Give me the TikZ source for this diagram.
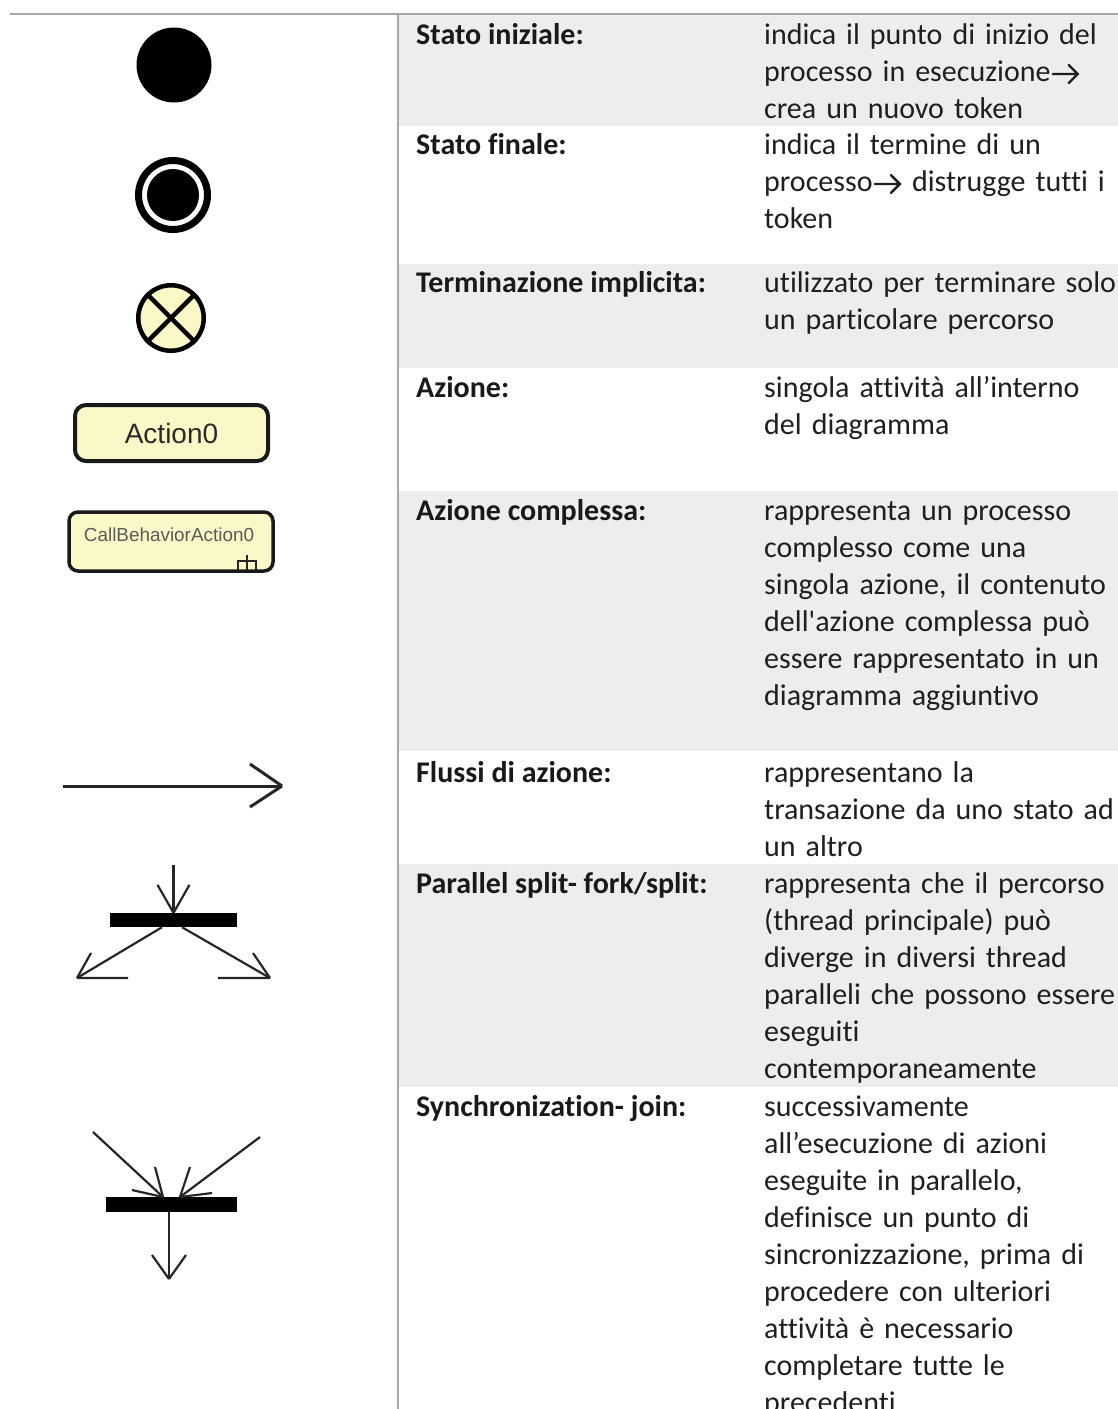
\documentclass[tikz,border=0pt]{standalone}
\usepackage{fontspec}
\newfontfamily\bodyfont{Carlito}[Ligatures=CommonOff]
\newfontfamily\umlfont{Liberation Sans}
\definecolor{rowshade}{HTML}{EDEDED}
\definecolor{rulegray}{HTML}{A8A8A8}
\definecolor{umlfill}{HTML}{FBF8C8}
\definecolor{ink}{HTML}{262626}
\definecolor{umltext}{HTML}{2A2A2A}
\definecolor{cbtextcol}{HTML}{5A5A5A}
% open-headed arrow used inside the descriptions
\newcommand{\txtarrow}{\kern1pt\tikz[x=1pt,y=1pt,baseline=0pt]{\draw[line width=2.4pt, line cap=round] (0,7) -- (25,7) (16,16) -- (25,7) -- (16,-2);}\kern1pt}
\begin{document}
\begin{tikzpicture}[x=1pt,y=-1pt,
  lab/.style={font=\bodyfont\bfseries\fontsize{30}{37}\selectfont, anchor=base west, inner sep=0pt, text=black!90},
  desc/.style={font=\bodyfont\fontsize{30}{37}\selectfont, anchor=base west, inner sep=0pt, text width=354pt, align=left, text=black!88},
  conn/.style={draw=ink, line width=2.2pt},
  umlbox/.style={draw=black!90, fill=umlfill, rounded corners=11pt, inner sep=0pt},
  bar/.style={fill=black, inner sep=0pt, rectangle}
]
\useasboundingbox (0,0) rectangle (1118,1409);
\clip (0,0) rectangle (1118,1409);

% shaded table rows
\fill[rowshade] (399,15) rectangle (1118,126);
\fill[rowshade] (399,264) rectangle (1118,368);
\fill[rowshade] (399,491) rectangle (1118,751);
\fill[rowshade] (399,864) rectangle (1118,1087);

% table rules
\draw[rulegray, line width=2pt] (10,14) -- (1118,14);
\draw[rulegray, line width=2pt] (398,14) -- (398,1409);

% left column: labels
\node[lab] (l1) at (416,44) {Stato iniziale:};
\node[lab] (l2) at (416,154) {Stato finale:};
\node[lab] (l3) at (416,292) {Terminazione implicita:};
\node[lab] (l4) at (416,397) {Azione:};
\node[lab] (l5) at (416,520) {Azione complessa:};
\node[lab] (l6) at (416,782) {Flussi di azione:};
\node[lab] (l7) at (416,893) {Parallel split- fork/split:};
\node[lab] (l8) at (416,1116) {Synchronization- join:};

% right column: descriptions
\node[desc] (d1) at (764,44) {indica il punto di inizio del\\processo in esecuzione\txtarrow\\crea un nuovo token};
\node[desc] (d2) at (764,154) {indica il termine di un\\processo\txtarrow\ distrugge tutti i\\token};
\node[desc] (d3) at (764,292) {utilizzato per terminare solo\\un particolare percorso};
\node[desc] (d4) at (764,397) {singola attività all’interno\\del diagramma};
\node[desc] (d5) at (764,520) {rappresenta un processo\\complesso come una\\singola azione, il contenuto\\dell'azione complessa può\\essere rappresentato in un\\diagramma aggiuntivo};
\node[desc] (d6) at (764,782) {rappresentano la\\transazione da uno stato ad\\un altro};
\node[desc] (d7) at (764,893) {rappresenta che il percorso\\(thread principale) può\\diverge in diversi thread\\paralleli che possono essere\\eseguiti\\contemporaneamente};
\node[desc] (d8) at (764,1116) {successivamente\\all’esecuzione di azioni\\eseguite in parallelo,\\definisce un punto di\\sincronizzazione, prima di\\procedere con ulteriori\\attività è necessario\\completare tutte le\\precedenti};

% initial state
\node[circle, fill=black, minimum size=75pt, inner sep=0pt] (init) at (174,65) {};

% final state
\node[circle, draw=black, line width=7pt, minimum size=69pt, inner sep=0pt] (fin) at (173,195) {};
\node[circle, fill=black, minimum size=52pt, inner sep=0pt] (fincore) at (fin.center) {};

% flow final (implicit termination)
\node[circle, draw=black, fill=umlfill, line width=4.5pt, minimum size=65.5pt, inner sep=0pt] (term) at (171,318) {};
\draw[black, line width=4.5pt] (term.north west) -- (term.south east) (term.north east) -- (term.south west);

% action
\node[umlbox, line width=4pt, minimum width=193pt, minimum height=56pt,
      font=\umlfont\fontsize{28}{30}\selectfont, text=umltext] (act) at (171.5,433) {Action0};

% call behavior action
\node[umlbox, line width=3.5pt, rounded corners=9pt, minimum width=204pt, minimum height=59pt] (cba) at (171,541.5) {};
\node[font=\umlfont\fontsize{18.9}{20}\selectfont, text=cbtextcol, inner sep=0pt] (cbal) at (169,535) {CallBehaviorAction0};
\draw[black!85, line width=2pt] (247,555) -- (247,570) (238,570) -- (238,561) -- (256,561) -- (256,570);

% control flow
\coordinate (fs) at (63,786);
\coordinate (fe) at (282,786);
\draw[conn, line width=3pt] (fs) -- (fe);
\draw[conn, line width=3pt] (fe) -- ++(-32,-22) (fe) -- ++(-32,21);

% fork
\node[bar, minimum width=127pt, minimum height=14pt] (fork) at (173.5,920) {};
\coordinate (forkin) at (173.5,865);
\coordinate (forkl) at (77,978);
\coordinate (forkr) at (270,978);
\draw[conn] (forkin) -- (fork.north);
\draw[conn] (fork.north) -- ++(-16,-28) (fork.north) -- ++(16,-28);
\draw[conn] ([xshift=-11.5pt]fork.south) -- (forkl);
\draw[conn] (forkl) -- ++(14,-25) (forkl) -- ++(51,0);
\draw[conn] ([xshift=8.5pt]fork.south) -- (forkr);
\draw[conn] (forkr) -- ++(-17,-25) (forkr) -- ++(-52,0);

% join
\node[bar, minimum width=131pt, minimum height=15pt] (join) at (171.5,1204.5) {};
\coordinate (joinl) at (93,1132);
\coordinate (joinr) at (260,1137);
\coordinate (joinout) at (169,1279);
\coordinate (jtl) at (163,1197);
\coordinate (jtr) at (180,1197);
\draw[conn] (joinl) -- (jtl);
\draw[conn] (jtl) -- ++(-8,-30) (jtl) -- ++(-31,-7);
\draw[conn] (joinr) -- (jtr);
\draw[conn] (jtr) -- ++(10,-30) (jtr) -- ++(32,-4);
\draw[conn] ([xshift=-2.5pt]join.south) -- (joinout);
\draw[conn] (joinout) -- ++(-17,-24) (joinout) -- ++(17,-24);
\end{tikzpicture}
\end{document}
